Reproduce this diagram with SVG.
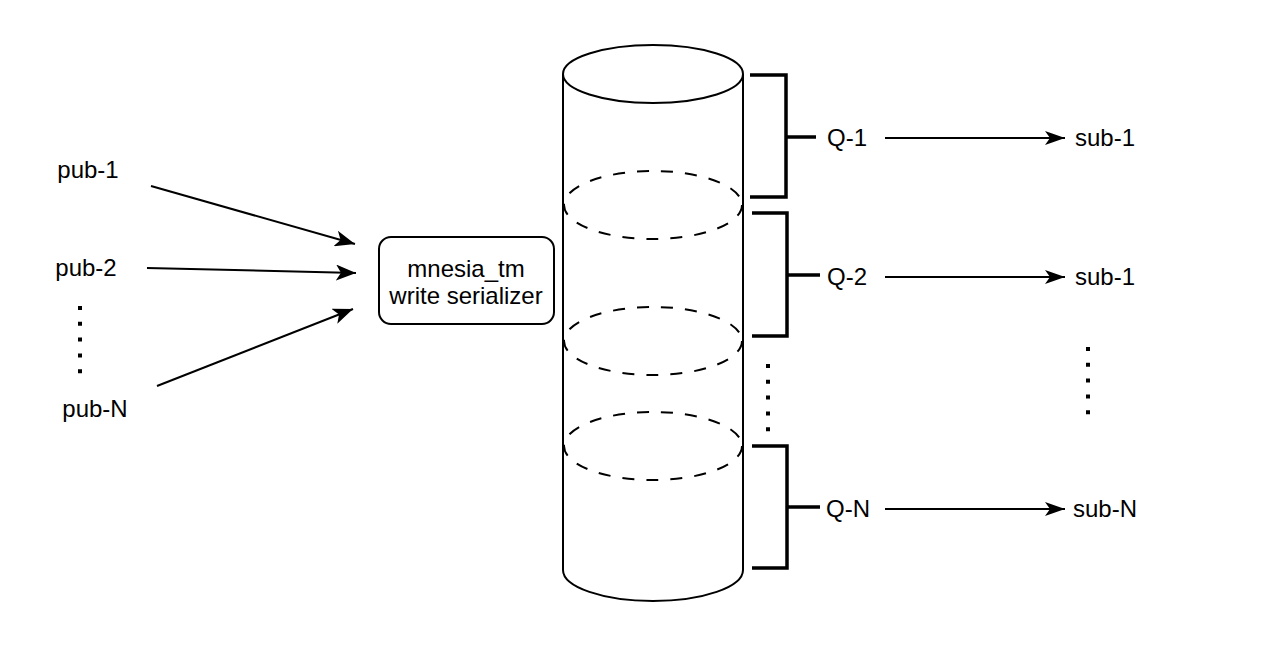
<svg xmlns="http://www.w3.org/2000/svg" width="1268" height="652" viewBox="0 0 1268 652">
<style>
text{font-family:"Liberation Sans",Arial,Helvetica,sans-serif;font-size:24px;fill:#000;text-anchor:middle}
.ln{stroke:#000;stroke-width:2;fill:none}
.br{stroke:#000;stroke-width:3.5;fill:none}
.dash{stroke:#000;stroke-width:2;fill:none;stroke-dasharray:12 12}
.dots{stroke:#000;stroke-width:4;fill:none;stroke-dasharray:4 11.8}
</style>
<defs>
<marker id="arrL" markerWidth="20" markerHeight="16" refX="20" refY="8" orient="auto" markerUnits="userSpaceOnUse" viewBox="0 0 20 16">
<path d="M0,0 L20,8 L0,16 L5,8 Z" fill="#000"/>
</marker>
<marker id="arrR" markerWidth="20" markerHeight="14" refX="20" refY="7" orient="auto" markerUnits="userSpaceOnUse" viewBox="0 0 20 14">
<path d="M0,0 L20,7 L0,14 L5,7 Z" fill="#000"/>
</marker>
</defs>
<rect width="1268" height="652" fill="#fff"/>

<g id="pub-1"><text x="88" y="178">pub-1</text></g>
<g id="pub-2"><text x="86" y="276">pub-2</text></g>
<g id="pub-N"><text x="95" y="417">pub-N</text></g>
<g id="pub-dots"><line class="dots" x1="80" y1="306" x2="80" y2="376"/></g>

<g id="serializer">
<rect x="379" y="237" width="175" height="87" rx="12" ry="12" fill="#fff" stroke="#000" stroke-width="2"/>
<text x="466" y="277">mnesia_tm</text>
<text x="466" y="304">write serializer</text>
</g>

<g id="cylinder">
<path d="M563,74 L563,570 A90,31 0 0 0 743,570 L743,74" fill="#fff" stroke="#000" stroke-width="2"/>
<ellipse cx="653" cy="74" rx="90" ry="29" fill="#fff" stroke="#000" stroke-width="2"/>
<ellipse class="dash" cx="653" cy="205" rx="89" ry="34"/>
<ellipse class="dash" cx="653" cy="341" rx="89" ry="34"/>
<ellipse class="dash" cx="653" cy="446" rx="89" ry="34"/>
</g>
<g id="cyl-dots"><line class="dots" x1="768" y1="364" x2="768" y2="434"/></g>

<g id="bracket-1"><path class="br" d="M750,75 H786 V197 H750 M786,137 H816"/></g>
<g id="bracket-2"><path class="br" d="M752,213 H787 V336 H752 M787,275 H820"/></g>
<g id="bracket-N"><path class="br" d="M752,446 H787 V568 H752 M787,507 H820"/></g>

<g id="q-1"><text x="847" y="146">Q-1</text></g>
<g id="q-2"><text x="847" y="285">Q-2</text></g>
<g id="q-N"><text x="848" y="517">Q-N</text></g>

<g id="sub-1a"><text x="1105" y="146">sub-1</text></g>
<g id="sub-1b"><text x="1105" y="285">sub-1</text></g>
<g id="sub-N"><text x="1105" y="517">sub-N</text></g>
<g id="sub-dots"><line class="dots" x1="1088" y1="347" x2="1088" y2="417"/></g>

<g id="connectors">
<line class="ln" x1="151" y1="186" x2="355" y2="244" marker-end="url(#arrL)"/>
<line class="ln" x1="147" y1="268" x2="356" y2="273" marker-end="url(#arrL)"/>
<line class="ln" x1="157" y1="386" x2="353" y2="309" marker-end="url(#arrL)"/>
<line class="ln" x1="885" y1="138" x2="1065" y2="138" marker-end="url(#arrR)"/>
<line class="ln" x1="885" y1="277" x2="1065" y2="277" marker-end="url(#arrR)"/>
<line class="ln" x1="885" y1="509" x2="1065" y2="509" marker-end="url(#arrR)"/>
</g>
</svg>
